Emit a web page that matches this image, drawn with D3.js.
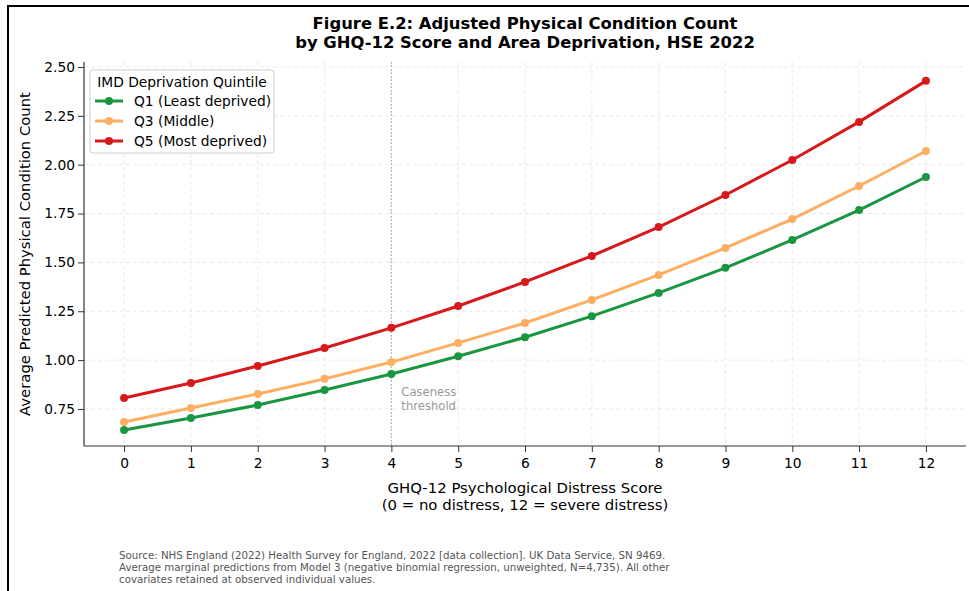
<!DOCTYPE html>
<html><head><meta charset="utf-8">
<script src="https://cdn.jsdelivr.net/npm/d3@7"></script>
<style>body{margin:0;background:#fff}svg{display:block}text{font-family:"DejaVu Sans",sans-serif}</style>
</head><body><svg id="c" width="969" height="591"></svg>
<script>
const scores = [0,1,2,3,4,5,6,7,8,9,10,11,12];
const q1 = [0.642,0.704,0.770,0.847,0.929,1.020,1.117,1.225,1.344,1.472,1.615,1.768,1.937];
const q3 = [0.683,0.755,0.827,0.904,0.990,1.088,1.190,1.308,1.436,1.574,1.722,1.891,2.070];
const q5 = [0.806,0.883,0.970,1.062,1.165,1.277,1.400,1.533,1.681,1.845,2.024,2.219,2.429];
const seriesNames = ["Q1 (Least deprived)","Q3 (Middle)","Q5 (Most deprived)"];
const seriesColors = ["#1a9641","#fdae61","#d7191c"];
const yTicks = [0.75,1.00,1.25,1.50,1.75,2.00,2.25,2.50];
const caseness = 4;

const svg = d3.select("#c");
svg.append("rect").attr("x",8).attr("y",6).attr("width",1000).attr("height",700).attr("fill","none").attr("stroke","#000").attr("stroke-width",2);

const L=84,R=966,T=62,B=446;
const x = d3.scaleLinear().domain([-0.6,12.6]).range([L,R]);
const y = d3.scaleLinear().domain([0.5605,2.5255]).range([B,T]);

// grid
const g = svg.append("g");
g.selectAll(".gx").data(scores).join("line").attr("x1",d=>x(d)).attr("x2",d=>x(d)).attr("y1",T).attr("y2",B)
 .attr("stroke","#e3e3e3").attr("stroke-dasharray","4,3").attr("stroke-width",0.8);
g.selectAll(".gy").data(yTicks).join("line").attr("y1",d=>y(d)).attr("y2",d=>y(d)).attr("x1",L).attr("x2",R)
 .attr("stroke","#e3e3e3").attr("stroke-dasharray","4,3").attr("stroke-width",0.8);

// caseness line
svg.append("line").attr("x1",x(caseness)).attr("x2",x(caseness)).attr("y1",T).attr("y2",B)
 .attr("stroke","#aaa").attr("stroke-dasharray","1.5,2").attr("stroke-width",1.2);
svg.append("text").attr("x",x(caseness)+10).attr("y",396).attr("fill","#999").attr("font-size",11.6).text("Caseness");
svg.append("text").attr("x",x(caseness)+10).attr("y",410).attr("fill","#999").attr("font-size",11.6).text("threshold");

// axes
const xa = svg.append("g").attr("transform",`translate(0,${B})`).call(d3.axisBottom(x).tickValues(scores).tickFormat(d3.format("d")).tickSizeOuter(0));
const ya = svg.append("g").attr("transform",`translate(${L},0)`).call(d3.axisLeft(y).tickValues(yTicks).tickFormat(d3.format(".2f")).tickSizeOuter(0));
[xa,ya].forEach(a=>{a.select(".domain").attr("stroke","#333").attr("stroke-width",1.2);
 a.selectAll(".tick line").attr("stroke","#333");
 a.selectAll(".tick text").attr("font-size",13.8).attr("fill","#000").attr("font-family","DejaVu Sans");});
xa.selectAll(".tick text").attr("dy","0.95em");
ya.select(".domain").attr("d",`M-0,${B}V${T}`);
xa.select(".domain").attr("d",`M${L},0H${R}`);

// lines
const data=[q1,q3,q5];
const line=d3.line().x((d,i)=>x(scores[i])).y(d=>y(d));
data.forEach((s,k)=>{
 svg.append("path").datum(s).attr("d",line).attr("fill","none").attr("stroke",seriesColors[k]).attr("stroke-width",3);
 svg.append("g").selectAll("circle").data(s).join("circle").attr("cx",(d,i)=>x(scores[i])).attr("cy",d=>y(d)).attr("r",4).attr("fill",seriesColors[k]);
});

// legend
const lg=svg.append("g");
lg.append("rect").attr("x",90).attr("y",70).attr("width",184).attr("height",83).attr("rx",3).attr("fill","#fff").attr("fill-opacity",0.85).attr("stroke","#ccc");
lg.append("text").attr("x",182).attr("y",87).attr("text-anchor","middle").attr("font-size",13.8).text("IMD Deprivation Quintile");
seriesNames.forEach((n,k)=>{
 const yy=101+k*20;
 lg.append("line").attr("x1",95).attr("x2",123).attr("y1",yy).attr("y2",yy).attr("stroke",seriesColors[k]).attr("stroke-width",3);
 lg.append("circle").attr("cx",109).attr("cy",yy).attr("r",4).attr("fill",seriesColors[k]);
 lg.append("text").attr("x",134).attr("y",yy+5).attr("font-size",13.8).text(n);
});

// titles
svg.append("text").attr("x",525).attr("y",29).attr("text-anchor","middle").attr("font-size",16.4).attr("font-weight","bold").text("Figure E.2: Adjusted Physical Condition Count");
svg.append("text").attr("x",525).attr("y",48).attr("text-anchor","middle").attr("font-size",16.4).attr("font-weight","bold").text("by GHQ-12 Score and Area Deprivation, HSE 2022");
svg.append("text").attr("x",525).attr("y",493).attr("text-anchor","middle").attr("font-size",14.9).text("GHQ-12 Psychological Distress Score");
svg.append("text").attr("x",525).attr("y",510).attr("text-anchor","middle").attr("font-size",14.9).text("(0 = no distress, 12 = severe distress)");
svg.append("text").attr("transform",`translate(30,${(T+B)/2}) rotate(-90)`).attr("text-anchor","middle").attr("font-size",14.8).text("Average Predicted Physical Condition Count");

const src=["Source: NHS England (2022) Health Survey for England, 2022 [data collection]. UK Data Service, SN 9469.",
"Average marginal predictions from Model 3 (negative binomial regression, unweighted, N=4,735). All other",
"covariates retained at observed individual values."];
src.forEach((t,i)=>svg.append("text").attr("x",119).attr("y",559+i*12).attr("font-size",10.25).attr("fill","#555").text(t));
</script></body></html>
